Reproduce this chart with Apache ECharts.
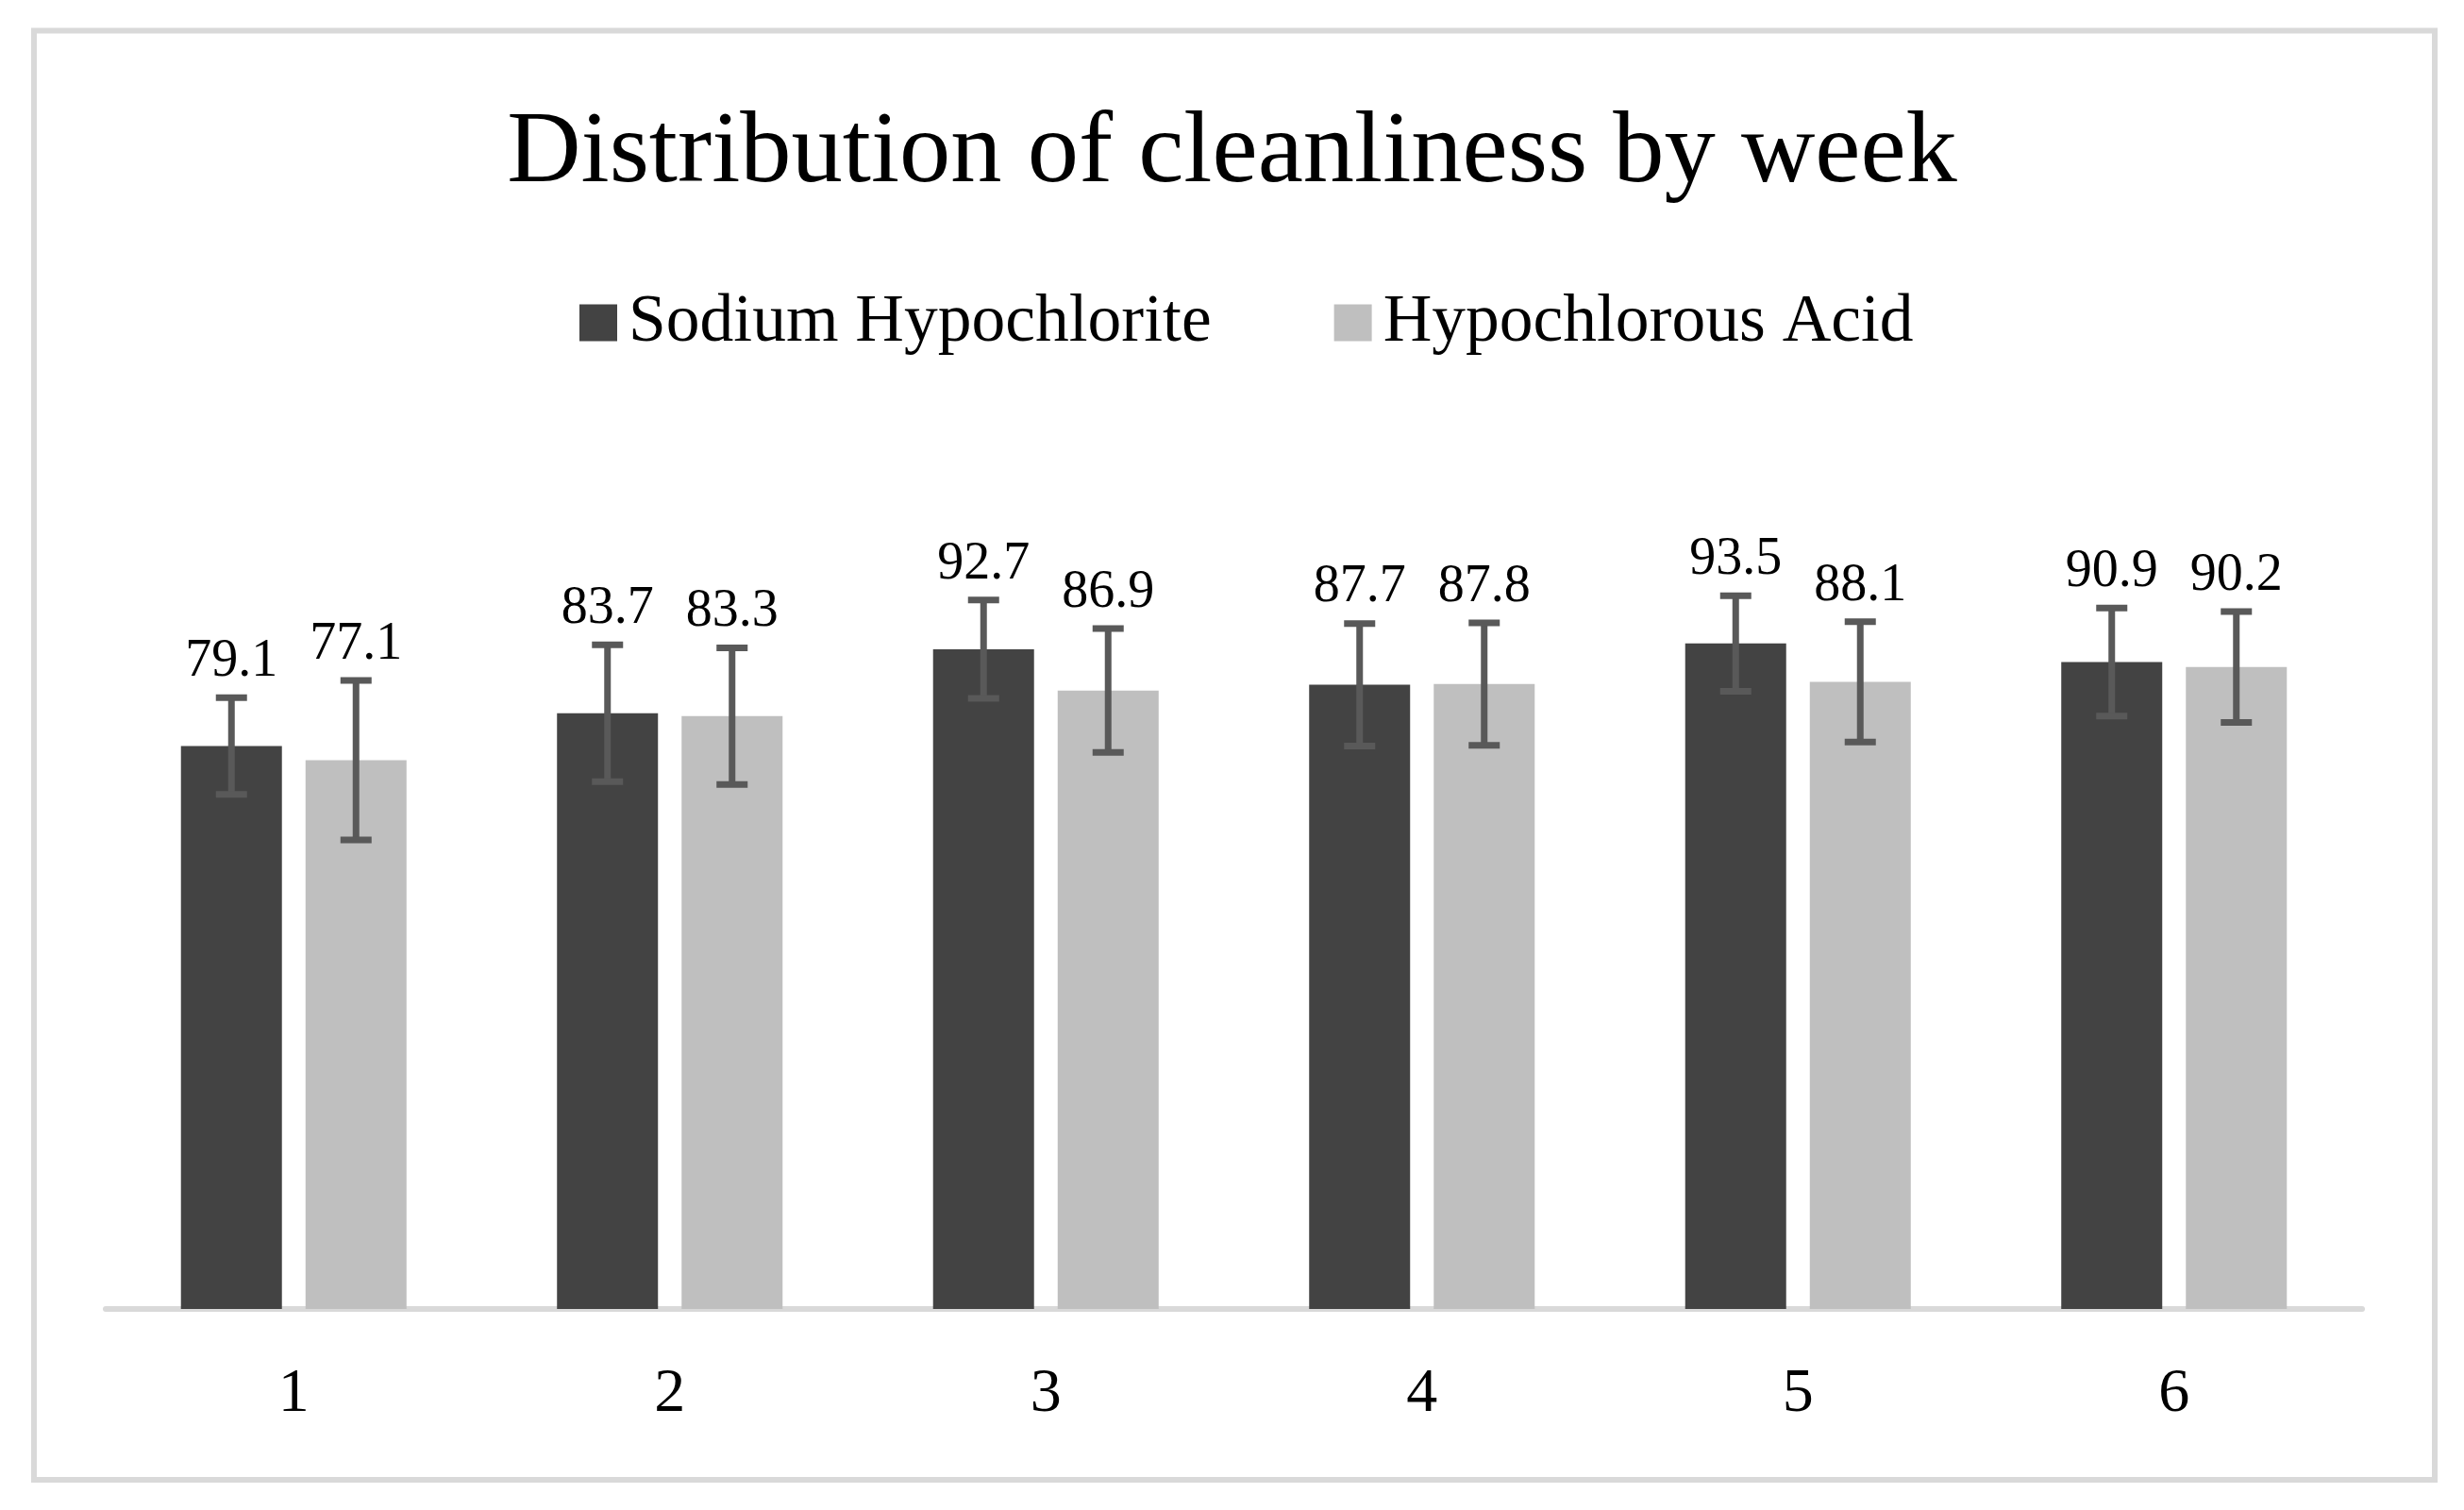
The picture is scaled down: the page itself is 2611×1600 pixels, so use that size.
<!DOCTYPE html>
<html>
<head>
<meta charset="utf-8">
<script src="https://cdn.jsdelivr.net/npm/echarts@6/dist/echarts.min.js"></script>
<style>
html,body{margin:0;padding:0;background:#fff;}
#chart{width:2611px;height:1600px;}
</style>
</head>
<body>
<div id="chart"></div>
<script>
const weeks = ['1', '2', '3', '4', '5', '6'];
const sodiumValues = [79.1, 83.7, 92.7, 87.7, 93.5, 90.9];
const sodiumErrors = [6.8, 9.6, 6.9, 8.6, 6.7, 7.6];
const acidValues = [77.1, 83.3, 86.9, 87.8, 88.1, 90.2];
const acidErrors = [11.2, 9.6, 8.7, 8.6, 8.45, 7.8];
const seriesNames = ['Sodium Hypochlorite', 'Hypochlorous Acid'];

const FONT = '"Liberation Serif", "DejaVu Serif", serif';
const DARK = '#434343';
const LIGHT = '#bfbfbf';
const ERR = '#595959';
const BAR_W = 107;
const BAR_GAP = 25;
const OFFSET = (BAR_W + BAR_GAP) / 2;

function errSeries(sign, vals, errs) {
  return {
    type: 'custom',
    z: 10,
    silent: true,
    data: vals.map((v, i) => [i, v, errs[i]]),
    renderItem: function (params, api) {
      const x = api.value(0), v = api.value(1), e = api.value(2);
      const top = api.coord([x, v + e]);
      const bot = api.coord([x, v - e]);
      const cx = top[0] + sign * OFFSET;
      const cap = 16.5;
      const ls = { stroke: ERR, lineWidth: 7 };
      return {
        type: 'group',
        children: [
          { type: 'line', shape: { x1: cx, y1: top[1], x2: cx, y2: bot[1] }, style: ls },
          { type: 'line', shape: { x1: cx - cap, y1: top[1], x2: cx + cap, y2: top[1] }, style: ls },
          { type: 'line', shape: { x1: cx - cap, y1: bot[1], x2: cx + cap, y2: bot[1] }, style: ls },
          { type: 'text', style: { text: v.toFixed(1), x: cx, y: top[1] - 10, align: 'center', verticalAlign: 'bottom',
              font: '56px ' + FONT, fill: '#000' } }
        ]
      };
    }
  };
}

const chart = echarts.init(document.getElementById('chart'));
chart.setOption({
  backgroundColor: '#fff',
  animation: false,
  title: {
    text: 'Distribution of cleanliness by week',
    left: 'center',
    top: 104,
    textStyle: { fontFamily: FONT, fontSize: 108.5, fontWeight: 'normal', color: '#000' }
  },
  legend: {
    top: 306,
    left: 614,
    padding: 0,
    itemWidth: 40,
    itemHeight: 39,
    itemGap: 130,
    icon: 'rect',
    data: seriesNames,
    textStyle: { fontFamily: FONT, fontSize: 71.5, color: '#000', lineHeight: 39, padding: [0, 0, 0, 7] }
  },
  grid: { left: 112, right: 108, top: 482, bottom: 213 },
  xAxis: {
    type: 'category',
    data: weeks,
    offset: 3,
    axisLine: { show: true, lineStyle: { color: '#d9d9d9', width: 6 } },
    axisTick: { show: false },
    axisLabel: { fontFamily: FONT, fontSize: 66, color: '#000', margin: 55 }
  },
  yAxis: {
    type: 'value',
    min: 0,
    max: 120,
    show: false,
    splitLine: { show: false }
  },
  graphic: [{
    type: 'rect',
    shape: { x: 36, y: 32.5, width: 2544, height: 1535.5 },
    style: { fill: 'none', stroke: '#d9d9d9', lineWidth: 6 },
    z: -10
  }],
  series: [
    { name: seriesNames[0], type: 'bar', data: sodiumValues, barWidth: BAR_W, barGap: (BAR_GAP / BAR_W * 100).toFixed(1) + '%',
      itemStyle: { color: DARK } },
    { name: seriesNames[1], type: 'bar', data: acidValues, barWidth: BAR_W, barGap: (BAR_GAP / BAR_W * 100).toFixed(1) + '%',
      itemStyle: { color: LIGHT } },
    errSeries(-1, sodiumValues, sodiumErrors),
    errSeries(1, acidValues, acidErrors)
  ]
});
</script>
</body>
</html>
